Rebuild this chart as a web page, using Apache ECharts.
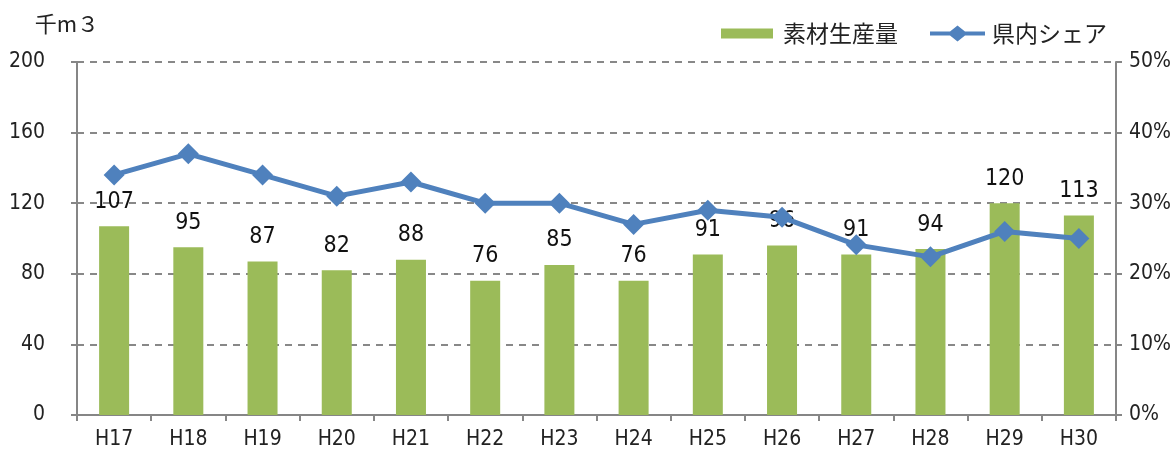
<!DOCTYPE html>
<html>
<head>
    <meta charset="utf-8">
    <title>ECharts</title>
    <script type="text/javascript" src="https://cdn.jsdelivr.net/npm/echarts@6/dist/echarts.min.js"></script>
    <style>body{margin:0;background:#fff;}</style>
</head>
<body>
    <div id="main" style="width: 1175px;height:453px;"></div>
    <script type="text/javascript">
    var years = ['H17','H18','H19','H20','H21','H22','H23','H24','H25','H26','H27','H28','H29','H30'];
    var production = [107, 95, 87, 82, 88, 76, 85, 76, 91, 96, 91, 94, 120, 113];
    var share = [34, 37, 34, 31, 33, 30, 30, 27, 29, 28, 24.1, 22.4, 26, 25];

    var myChart = echarts.init(document.getElementById('main'));
    var txtFont = '"Liberation Sans Narrow", "DejaVu Sans Condensed", sans-serif';
    var jpFont = '"Noto Sans CJK JP", sans-serif';

    // legend icons (same 55x16 box so both keep their shape)
    var barIcon = 'path://M0,0L0,0M0,3L52,3L52,13L0,13ZM55,16L55,16';
    var lineIcon = 'path://M0,6L20,6L27.5,0L35,6L55,6L55,10L35,10L27.5,16L20,10L0,10Z';

    option = {
        animation: false,
        textStyle: { fontFamily: txtFont },
        legend: {
            right: 63,
            top: 17,
            itemGap: 32,
            itemWidth: 55,
            itemHeight: 16,
            textStyle: { fontSize: 23, color: '#222', fontFamily: jpFont, padding: [0, 0, 0, 2] },
            data: [
                { name: '素材生産量', icon: barIcon },
                { name: '県内シェア', icon: lineIcon }
            ]
        },
        grid: {
            left: 77,
            right: 59,
            top: 62,
            bottom: 38
        },
        xAxis: [{
            type: 'category',
            data: years,
            axisLine: { lineStyle: { color: '#868686', width: 2 } },
            axisTick: { show: true, length: 6, lineStyle: { color: '#868686', width: 2 } },
            axisLabel: { color: '#222', fontSize: 21, margin: 14, fontFamily: txtFont }
        }],
        yAxis: [
            {
                type: 'value',
                min: 0,
                max: 200,
                interval: 40,
                name: '千m３',
                nameLocation: 'end',
                nameGap: 27,
                nameTextStyle: { color: '#222', fontSize: 22, fontFamily: jpFont, align: 'right', padding: [0, -22, 0, 0] },
                axisLine: { show: true, lineStyle: { color: '#868686', width: 2 } },
                axisTick: { show: true, length: 6, lineStyle: { color: '#868686', width: 2 } },
                axisLabel: { color: '#222', fontSize: 21, margin: 32, fontFamily: txtFont },
                splitLine: { lineStyle: { color: '#888', type: [7, 6], width: 2 } }
            },
            {
                type: 'value',
                min: 0,
                max: 50,
                interval: 10,
                axisLine: { show: true, lineStyle: { color: '#868686', width: 2 } },
                axisTick: { show: true, length: 6, lineStyle: { color: '#868686', width: 2 } },
                axisLabel: { color: '#222', fontSize: 21, margin: 13, formatter: '{value}%', fontFamily: txtFont },
                splitLine: { show: false }
            }
        ],
        series: [
            {
                name: '素材生産量',
                type: 'bar',
                barWidth: 30,
                itemStyle: { color: '#9BBB59' },
                label: {
                    show: true,
                    position: 'top',
                    distance: 13,
                    color: '#111',
                    fontSize: 23,
                    fontFamily: txtFont
                },
                data: production
            },
            {
                name: '県内シェア',
                type: 'line',
                yAxisIndex: 1,
                symbol: 'diamond',
                symbolSize: 21,
                lineStyle: { color: '#4F81BD', width: 5 },
                itemStyle: { color: '#4F81BD' },
                data: share
            }
        ]
    };

    myChart.setOption(option);
    </script>
</body>
</html>
